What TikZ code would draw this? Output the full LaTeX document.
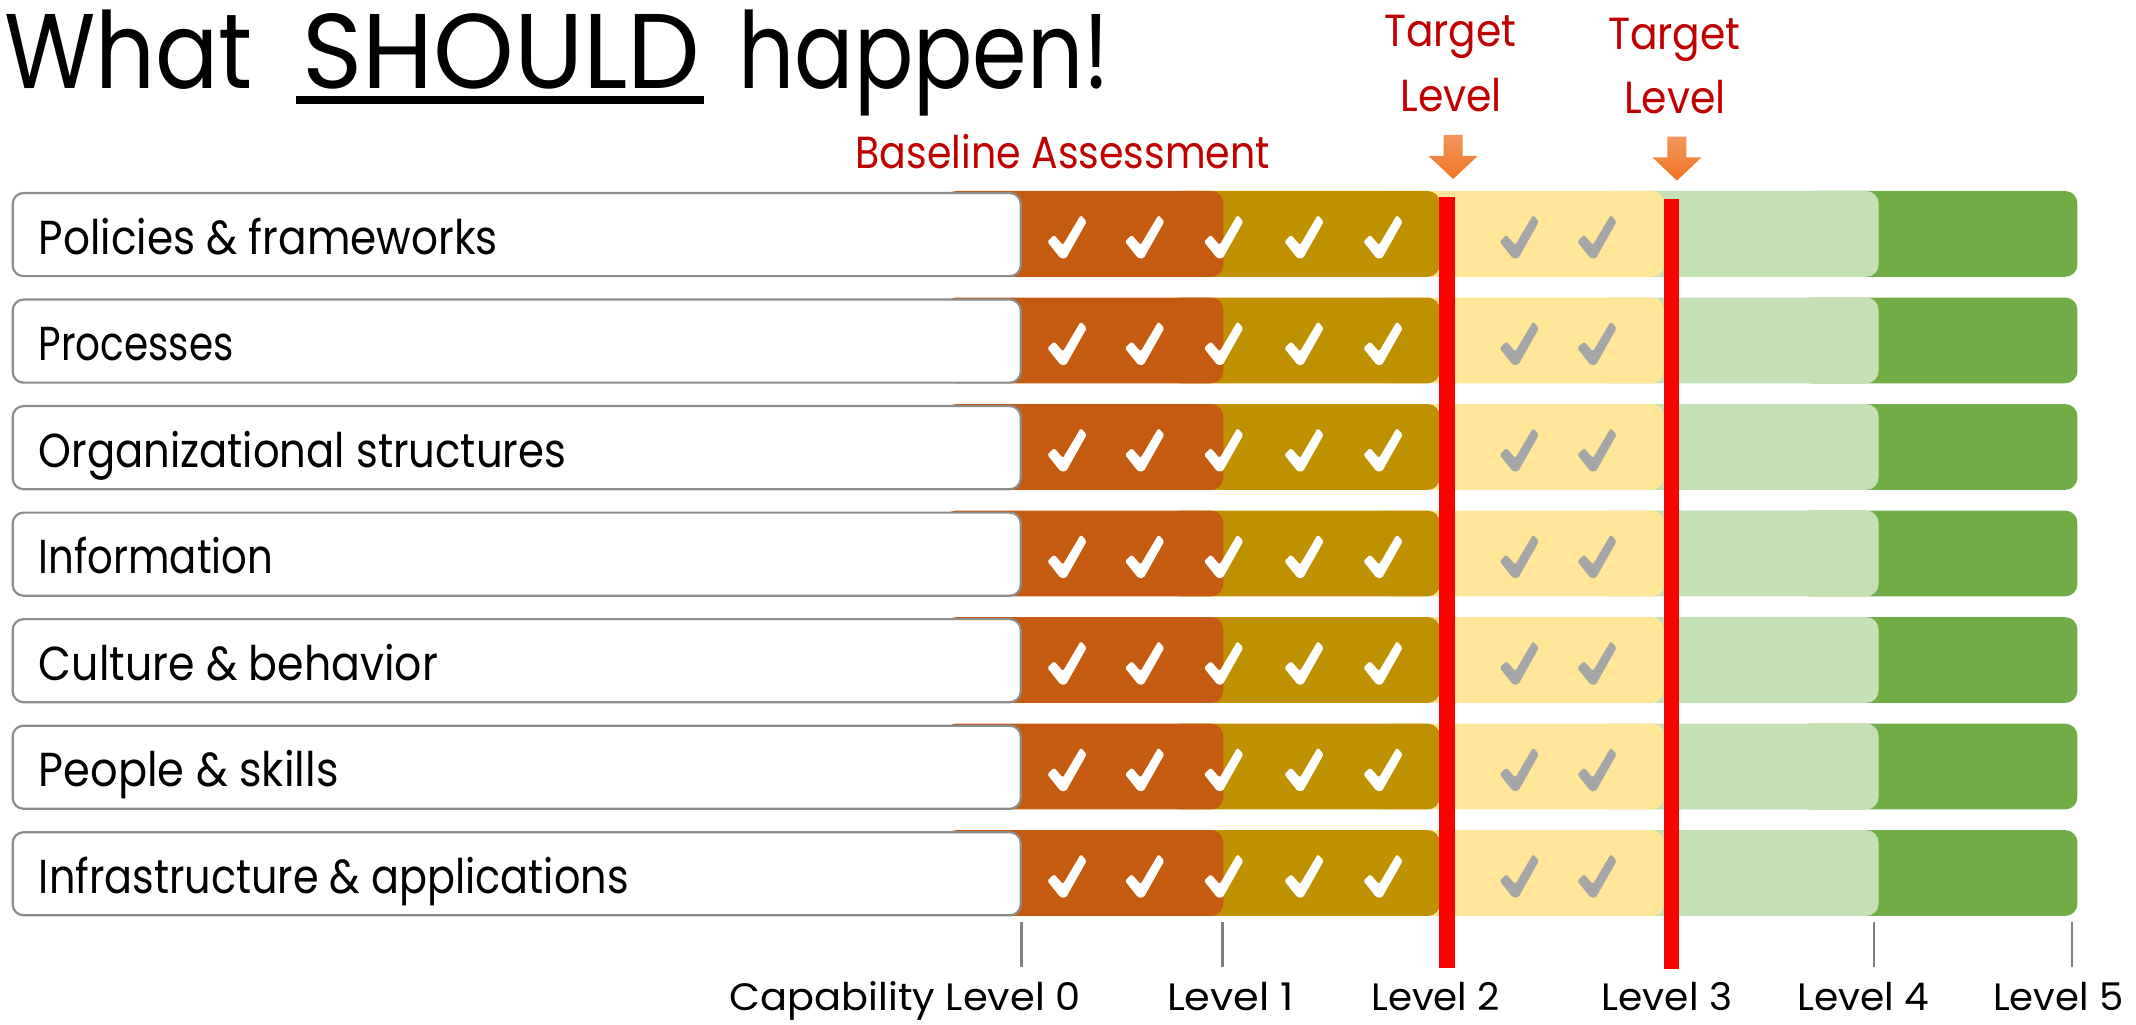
\documentclass[tikz,border=0pt]{standalone}
\usepackage{fontspec}
\setmainfont{Poppins}
\usepackage{graphicx}
\definecolor{cOr}{HTML}{C55A11}
\definecolor{cGold}{HTML}{BF9000}
\definecolor{cYel}{HTML}{FFE699}
\definecolor{cLG}{HTML}{C5E0B4}
\definecolor{cGr}{HTML}{70AD47}
\definecolor{cRedT}{HTML}{C00000}
\definecolor{cChkG}{HTML}{A6A6A6}
\definecolor{cBord}{HTML}{8C8C8C}
\definecolor{cArTop}{HTML}{F2965E}
\definecolor{cArBot}{HTML}{EF7422}
\newcommand\fitw[2]{\resizebox{#1pt}{\height}{#2}}
\newcommand\chk[3]{\fill[#3,rounded corners=1.2pt,shift={(#1,#2)}] (-13.2,4.4) -- (-8.2,-0.5) -- (-1.7,6.9) -- (11.4,-15.2) -- (15.7,-10.3) -- (0.5,16.7) -- (-3.4,16.7) -- cycle;}
\tikzset{
  ttl/.style={font=\fontsize{78}{90}\selectfont, inner sep=0, anchor=base west, text=black},
  redlab/.style={font=\fontsize{33}{40}\selectfont, inner sep=0, anchor=base west, text=cRedT},
  rowlab/.style={font=\fontsize{35}{40}\selectfont, inner sep=0, anchor=base west, text=black},
  lvlab/.style={font=\fontsize{28}{34}\selectfont, inner sep=0, anchor=base west, text=black},
  lbox/.style={draw=cBord, line width=1.6pt, fill=white, rounded corners=8pt},
  bar/.style={rounded corners=9pt},
  tick/.style={draw=gray, line width=2pt},
  arr/.style={top color=cArTop, bottom color=cArBot},
}
\begin{document}
\begin{tikzpicture}[x=1pt,y=-1pt]
\useasboundingbox (0,0) rectangle (1568,752);
% title
\node[ttl] (tW) at (2.8,64.8) {\fitw{182.6}{What}};
\node[ttl] (tS) at (221.8,64.8) {\fitw{292.2}{SHOULD}};
\node[ttl] (tH) at (542,64.8) {\fitw{272.4}{happen!}};
\fill (217,70.5) rectangle (517,76.1);
% red labels
\node[redlab] (base) at (628,123.5) {\fitw{304}{Baseline Assessment}};
\node[redlab] (tg1) at (1016,34.3) {\fitw{97}{Target}};
\node[redlab] (tl1) at (1027.8,82) {\fitw{74.5}{Level}};
\node[redlab] (tg2) at (1180.3,36.7) {\fitw{97.3}{Target}};
\node[redlab] (tl2) at (1192,83.2) {\fitw{74.6}{Level}};
% arrows
\shade[arr] (1059.7,99) -- (1073.7,99) -- (1073.7,114.5) -- (1084.7,114.5) -- (1066.7,131.4) -- (1048.7,114.5) -- (1059.7,114.5) -- cycle;
\shade[arr] (1224,100.3) -- (1238,100.3) -- (1238,115.5) -- (1249,115.5) -- (1231,132.6) -- (1213,115.5) -- (1224,115.5) -- cycle;
% rows
\foreach \i/\t/\w in {0/Policies \& frameworks/337, 1/Processes/143, 2/Organizational structures/387, 3/Information/172, 4/Culture \& behavior/293, 5/People \& skills/220, 6/Infrastructure \& applications/433}{
  \pgfmathsetmacro\rt{141.7+78.2*\i}
  \pgfmathsetmacro\ra{\rt-1.5}
  \pgfmathsetmacro\rb{\rt+61.5}
  \pgfmathsetmacro\rc{\rt+61}
  \pgfmathsetmacro\cy{\rt+31.3}
  \pgfmathsetmacro\bl{\rt+44.8}
  \fill[bar,cGr] (1320,\ra) rectangle (1525,\rb);
  \fill[bar,cLG] (1172,\ra) rectangle (1379,\rb);
  \fill[bar,cYel] (1010,\ra) rectangle (1221.5,\rb);
  \fill[bar,cGold] (857,\ra) rectangle (1057,\rb);
  \fill[bar,cOr] (693,\ra) rectangle (898,\rb);
  \draw[lbox] (9.3,\rt) rectangle (749.3,\rc);
  \node[rowlab] (lab\i) at (28.3,\bl) {\fitw{\w}{\t}};
  \foreach \cx in {782,839,897,956,1014} {\chk{\cx}{\cy}{white}}
  \foreach \cx in {1114,1171} {\chk{\cx}{\cy}{cChkG}}
}
% red target lines
\fill[red] (1056.5,144.4) rectangle (1068,710.4);
\fill[red] (1221.5,146) rectangle (1232.5,711.6);
% ticks
\draw[tick] (750,677) -- (750,710);
\draw[tick] (897.5,677) -- (897.5,710);
\draw[tick] (1375.7,677) -- (1375.7,710);
\draw[tick] (1521,677) -- (1521,710);
% level labels
\node[lvlab] (l0) at (535.6,742) {\fitw{257.4}{Capability Level 0}};
\node[lvlab] (l1) at (856.5,742) {\fitw{93.1}{Level 1}};
\node[lvlab] (l2) at (1006.5,742) {\fitw{94.5}{Level 2}};
\node[lvlab] (l3) at (1175.6,742) {\fitw{95.8}{Level 3}};
\node[lvlab] (l4) at (1319.2,742) {\fitw{96.8}{Level 4}};
\node[lvlab] (l5) at (1463,742) {\fitw{95.6}{Level 5}};
\end{tikzpicture}
\end{document}
